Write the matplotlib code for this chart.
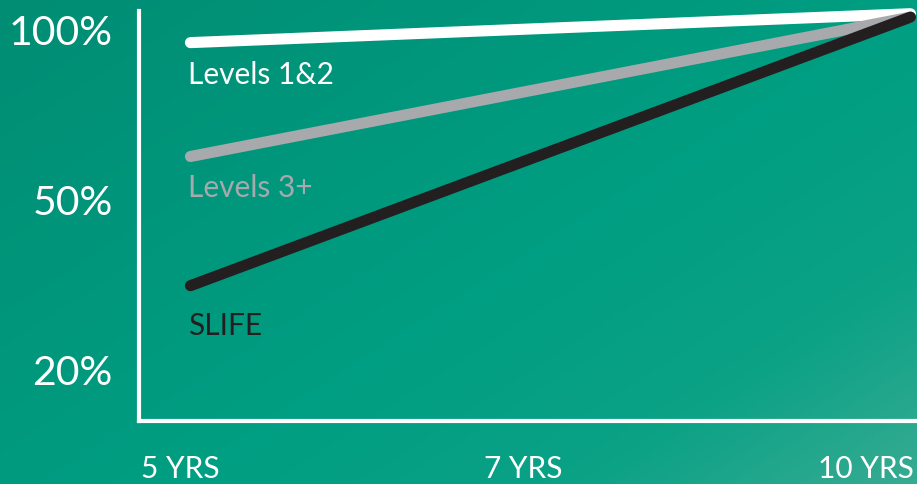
import numpy as np
import matplotlib
matplotlib.use("Agg")
import matplotlib.pyplot as plt
from matplotlib.colors import LinearSegmentedColormap

# categories / labels
periods = ["5 YRS", "7 YRS", "10 YRS"]
pct_labels = ["20%", "50%", "100%"]
series_names = ["Levels 1&2", "Levels 3+", "SLIFE"]

# line values, in tick-position units (0 = 20%, 1 = 50%, 2 = 100%; 0 = 5 YRS, 2 = 10 YRS)
x_vals = [0.03, 2.13]
levels12 = [1.92, 2.09]
levels3 = [1.25, 2.07]
slife = [0.49, 2.07]

colors = ["#ffffff", "#a7a9ac", "#231f20"]
label_drop = [-31, -30, -39]   # px below line start

W, H = 917, 485
fig = plt.figure(figsize=(W / 100, H / 100), dpi=100)

# background gradient (top-left darker -> bottom-right lighter)
bg = fig.add_axes([0, 0, 1, 1])
gx, gy = np.meshgrid(np.linspace(0, 1, 300), np.linspace(0, 1, 160))
g = (gx * 0.55 + gy * 0.45)
cmap = LinearSegmentedColormap.from_list(
    "bg", [(0, "#008d74"), (0.55, "#009e82"), (0.8, "#0ba286"), (1, "#36ab92")])
bg.imshow(g, cmap=cmap, aspect="auto", extent=[0, 1, 1, 0], vmin=0, vmax=1)
bg.axis("off")

ax = fig.add_axes([139 / W, 63 / H, (W - 139) / W, (422 - 12) / H])
ax.patch.set_alpha(0)

for ys, c, name, dy in zip([levels12, levels3, slife], colors, series_names, label_drop):
    ax.plot(x_vals, ys, color=c, lw=8, solid_capstyle="round", clip_on=False)
    ax.annotate(name, (x_vals[0], ys[0]), xytext=(-2, dy * 0.72), textcoords="offset points",
                ha="left", va="center", color=c, fontsize=21.5, family="Lato")

ax.set_xlim(-0.12, 2.149)
ax.set_ylim(-0.306, 2.106)
ax.set_xticks(range(len(periods)))
ax.set_xticklabels(periods, fontsize=21.5, family="Lato", color="white")
ax.set_yticks(range(len(pct_labels)))
ax.set_yticklabels(pct_labels, fontsize=29.5, family="Lato", color="white")
ax.tick_params(axis="both", length=0)
ax.tick_params(axis="x", pad=24)
ax.tick_params(axis="y", pad=19)
for s in ["top", "right"]:
    ax.spines[s].set_visible(False)
for s in ["left", "bottom"]:
    ax.spines[s].set_color("white")
    ax.spines[s].set_linewidth(3)

fig.savefig("out.png", dpi=100)
